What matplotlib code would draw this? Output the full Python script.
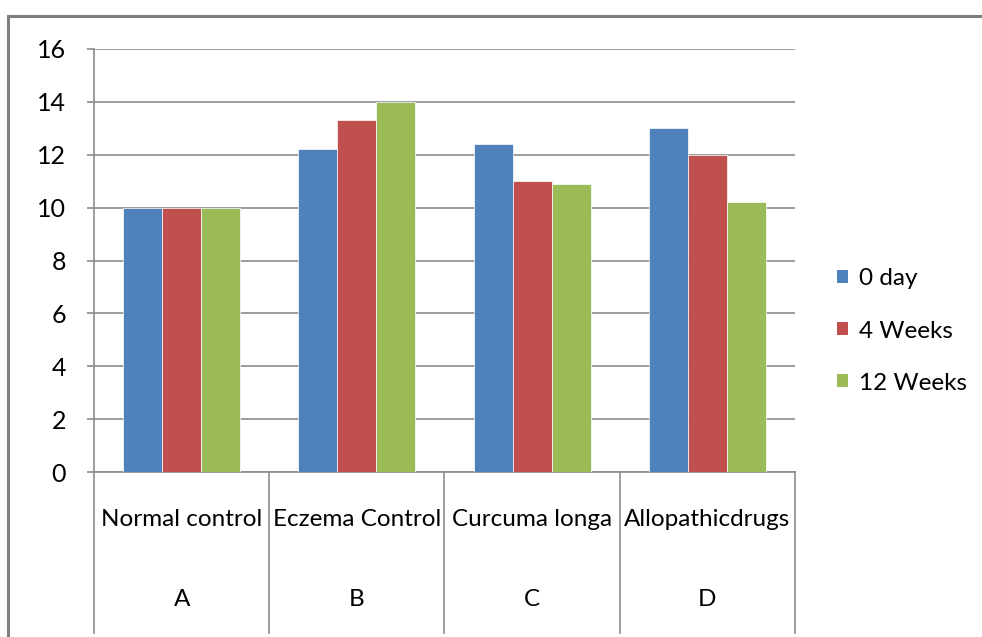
import matplotlib
matplotlib.use("Agg")
import matplotlib.pyplot as plt
import matplotlib.transforms as mtransforms
from matplotlib.patches import Patch
from matplotlib.lines import Line2D
import numpy as np

plt.rcParams['font.family'] = ['Lato', 'DejaVu Sans']

groups = ["Normal control", "Eczema Control", "Curcuma longa", "Allopathicdrugs"]
letters = ["A", "B", "C", "D"]
series_names = ["0 day", "4 Weeks", "12 Weeks"]
day0 = [10.0, 12.2, 12.4, 13.0]
week4 = [10.0, 13.3, 11.0, 12.0]
week12 = [10.0, 14.0, 10.9, 10.2]
colors = ["#4F81BD", "#C0504D", "#9BBB59"]
yticks = [0, 2, 4, 6, 8, 10, 12, 14, 16]

W, H = 982, 637
fig = plt.figure(figsize=(W / 100, H / 100), dpi=100)

left, right, top, bottom = 94, 795, 49, 472
ax = fig.add_axes([left / W, 1 - bottom / H, (right - left) / W, (bottom - top) / H])

x = np.arange(len(groups))
bw = 1 / 4.5
for i, (vals, c, name) in enumerate(zip([day0, week4, week12], colors, series_names)):
    ax.bar(x + (i - 1) * bw, vals, width=bw, color=c, edgecolor='white', linewidth=0.5, label=name, zorder=3)

ax.set_xlim(-0.5, len(groups) - 0.5)
ax.set_ylim(0, 16)
ax.set_yticks(yticks)
ax.set_yticklabels([str(v) for v in yticks], fontsize=18)
ax.yaxis.grid(True, color='#8c8c8c', linewidth=1.2, zorder=0)
ax.set_xticks([])
for s in ['top', 'right']:
    ax.spines[s].set_visible(False)
ax.spines['left'].set_color('#8c8c8c')
ax.spines['bottom'].set_color('#8c8c8c')
ax.spines['left'].set_linewidth(1.2)
ax.spines['bottom'].set_linewidth(1.2)
ax.tick_params(axis='y', length=5, width=1.2, color='#8c8c8c', pad=15, labelcolor='black')

# category dividers and labels
ph = bottom - top
trans = mtransforms.blended_transform_factory(ax.transData, ax.transAxes)
div_bottom = -(633 - bottom) / ph
for xi in np.arange(-0.5, len(groups), 1.0):
    ax.add_line(Line2D([xi, xi], [0, div_bottom], transform=trans, color='#8c8c8c',
                       linewidth=1.2, clip_on=False))
for i, (g, l) in enumerate(zip(groups, letters)):
    ax.text(i, -(519 - bottom) / ph, g, transform=trans, ha='center', va='center', fontsize=17.5)
    ax.text(i, -(600 - bottom) / ph, l, transform=trans, ha='center', va='center', fontsize=17.5)

handles = [Patch(facecolor=c, edgecolor='none') for c in colors]
leg = fig.legend(handles, series_names, loc='center left', bbox_to_anchor=(837 / W, 1 - 331 / H),
                 frameon=False, fontsize=17.5, handlelength=0.45, handleheight=0.45,
                 handletextpad=0.45, labelspacing=1.28, borderpad=0, borderaxespad=0)

# outer frame
fig.add_artist(Line2D([8 / W, 8 / W], [0, 1 - 16 / H], color='#808080', linewidth=2.2))
fig.add_artist(Line2D([8 / W, 1], [1 - 16 / H, 1 - 16 / H], color='#808080', linewidth=2.2))

fig.savefig("out.png", dpi=100)
